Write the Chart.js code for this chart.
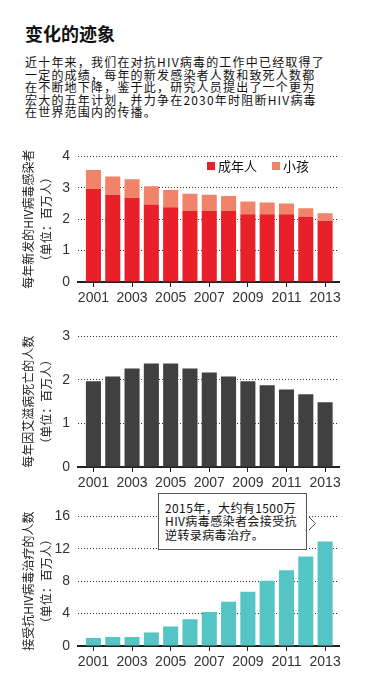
<!DOCTYPE html>
<html><head><meta charset="utf-8">
<script src="https://cdn.jsdelivr.net/npm/chart.js@4"></script>
<style>
html,body{margin:0;padding:0;background:#fff;}
body{width:374px;height:685px;position:relative;overflow:hidden;font-family:"Noto Sans CJK SC","Noto Sans",sans-serif;color:#111;}
#title{position:absolute;left:25px;top:23px;font-size:18px;font-weight:bold;line-height:20px;}
#intro{position:absolute;left:25px;top:56px;font-size:12px;line-height:12.6px;letter-spacing:1.2px;white-space:nowrap;}
canvas{position:absolute;left:0;}
#legend{position:absolute;left:207px;top:158px;font-size:13px;line-height:16px;display:flex;align-items:center;white-space:nowrap;}
#legend .it{display:flex;align-items:center;margin-right:15px;}
#legend .sw{width:8px;height:8px;margin-right:3px;display:inline-block;}
#callout{position:absolute;left:158px;top:493px;width:149px;height:57px;border:1px solid #555;background:#fff;z-index:5;font-size:12px;line-height:13.3px;letter-spacing:0.4px;padding:7px 0 0 6px;box-sizing:border-box;white-space:nowrap;}
#ptr{position:absolute;left:307px;top:514px;z-index:6;}
</style></head>
<body>
<div id="title">变化的迹象</div>
<div id="intro">近十年来，我们在对抗HIV病毒的工作中已经取得了<br>一定的成绩，每年的新发感染者人数和致死人数都<br>在不断地下降，鉴于此，研究人员提出了一个更为<br>宏大的五年计划，并力争在2030年时阻断HIV病毒<br>在世界范围内的传播。</div>
<canvas id="c1" width="374" height="170" style="top:140px;width:374px;height:170px"></canvas>
<canvas id="c2" width="374" height="175" style="top:320px;width:374px;height:175px"></canvas>
<canvas id="c3" width="374" height="174" style="top:500px;width:374px;height:174px"></canvas>
<div id="legend"></div>
<div id="callout">2015年，大约有1500万<br>HIV病毒感染者会接受抗<br>逆转录病毒治疗。</div>
<svg id="ptr" width="12" height="20" viewBox="0 0 12 20"><polygon points="0,3 8.5,9.5 0,16" fill="#fff"/><polyline points="2,3 8.5,9.5 2,16" fill="none" stroke="#555" stroke-width="1"/></svg>
<script>
const years = [2001,2002,2003,2004,2005,2006,2007,2008,2009,2010,2011,2012,2013];
const xTicks = [2001,2003,2005,2007,2009,2011,2013];
const adults   = [2.96,2.78,2.68,2.47,2.38,2.26,2.26,2.26,2.16,2.16,2.16,2.07,1.95];
const children = [0.61,0.58,0.59,0.58,0.55,0.55,0.52,0.48,0.40,0.37,0.34,0.28,0.24];
const deaths   = [1.97,2.08,2.26,2.38,2.38,2.26,2.17,2.08,1.97,1.88,1.78,1.67,1.49];
const treated  = [0.98,1.10,1.10,1.67,2.40,3.30,4.20,5.45,6.70,8.05,9.35,11.05,12.90];
const seriesNames = ['成年人','小孩'];
const title1 = ['每年新发的HIV病毒感染者','（单位：百万人）'];
const title2 = ['每年因艾滋病死亡的人数','（单位：百万人）'];
const title3 = ['接受抗HIV病毒治疗的人数','（单位：百万人）'];
const colors = {adult:'#e8202a', child:'#f0836a', death:'#404040', treat:'#55c4c4'};

const NUM_FONT = {family:'"Liberation Sans", Arial, sans-serif', size:14};
const pts = arr => arr.map((v,i)=>({x:years[i], y:v}));

function makeChart(id, datasets, yMax, yStep, title, padTop, stacked){
  return new Chart(document.getElementById(id), {
    type:'bar',
    data:{datasets},
    options:{
      responsive:false, animation:false, devicePixelRatio:1,
      layout:{padding:{left:0,right:35,top:padTop,bottom:0}},
      plugins:{legend:{display:false}, tooltip:{enabled:false}},
      datasets:{bar:{barPercentage:0.78, categoryPercentage:1}},
      scales:{
        x:{type:'linear', min:2000.2, max:2013.72, offset:false, stacked:stacked,
          afterBuildTicks: s => { s.ticks = xTicks.map(v=>({value:v})); },
          afterFit: s => { s.height = 28; },
          ticks:{autoSkip:false, maxRotation:0, padding:3, color:'#333', font:NUM_FONT, callback:v=>String(v)},
          grid:{display:true, offset:false, drawOnChartArea:false, drawTicks:true, tickLength:5, color:'#222', lineWidth:1},
          border:{display:true, color:'#222', width:2}
        },
        y:{min:0, max:yMax, stacked:stacked,
          afterFit: s => { s.width = 78; },
          ticks:{stepSize:yStep, padding:8, color:'#333', font:NUM_FONT},
          grid:{color:'#333', lineWidth:1, drawTicks:false},
          border:{display:false, dash:[1,2]},
          title:{display:true, text:title, color:'#222',
            font:{family:'"Noto Sans CJK SC", sans-serif', size:12, lineHeight:1.5},
            padding:{top:19,bottom:0}}
        }
      }
    }
  });
}

makeChart('c1', [
  {label:seriesNames[0], data:pts(adults), backgroundColor:colors.adult},
  {label:seriesNames[1], data:pts(children), backgroundColor:colors.child}
], 4, 1, title1, 11, true);
makeChart('c2', [{label:'死亡', data:pts(deaths), backgroundColor:colors.death}], 3, 1, title2, 16, false);
makeChart('c3', [{label:'治疗', data:pts(treated), backgroundColor:colors.treat}], 16, 4, title3, 14, false);

const lg = document.getElementById('legend');
[[seriesNames[0],colors.adult],[seriesNames[1],colors.child]].forEach(([t,c])=>{
  const it=document.createElement('span'); it.className='it';
  const sw=document.createElement('span'); sw.className='sw'; sw.style.background=c;
  it.appendChild(sw); it.appendChild(document.createTextNode(t)); lg.appendChild(it);
});
</script>
</body></html>
